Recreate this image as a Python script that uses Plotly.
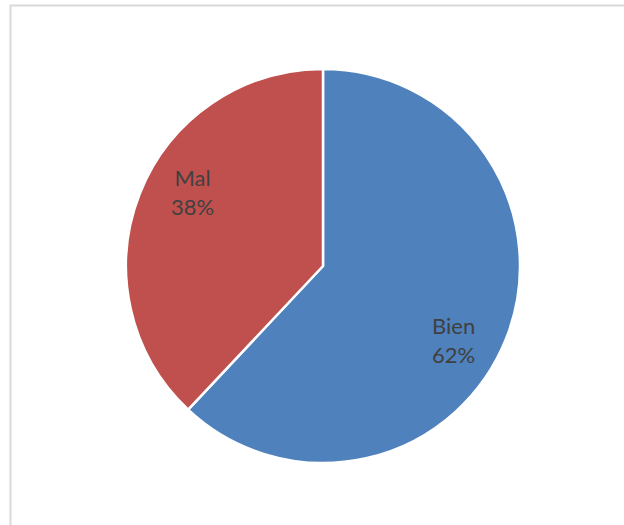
import math
import plotly.graph_objects as go

categories = ["Bien", "Mal"]
values = [62, 38]
colors = ["#4F81BD", "#C0504D"]

W, H = 624, 525
cx, cy, R = 323, 266, 197  # pie centre / radius in pixels

fig = go.Figure()
fig.add_trace(go.Pie(
    labels=categories,
    values=values,
    sort=False,
    direction="clockwise",
    rotation=0,
    marker=dict(colors=colors, line=dict(color="white", width=2.5)),
    textinfo="none",
    hoverinfo="label+percent",
    showlegend=False,
    domain=dict(x=[(cx - R) / W, (cx + R) / W], y=[(H - cy - R) / H, (H - cy + R) / H]),
))

# data labels placed along each slice's bisector (Excel "best fit" style)
total = sum(values)
cum = 0
label_r = 0.76
angle_shift = 8  # degrees
for lab, v in zip(categories, values):
    mid = (cum + v / 2) / total * 360 + angle_shift
    cum += v
    a = math.radians(mid)
    px = cx + label_r * R * math.sin(a)
    py = cy - label_r * R * math.cos(a)
    pct = round(v / total * 100)
    fig.add_annotation(
        x=px / W, y=1 - py / H, xref="paper", yref="paper",
        xanchor="center", yanchor="middle",
        text=f"{lab}<br>{pct}%", showarrow=False,
        font=dict(family="Lato, Carlito, Calibri, sans-serif", size=22, color="#404040"),
        align="center",
    )

# chart-area border (cut off at right and bottom in the reference)
fig.add_shape(type="rect", xref="paper", yref="paper",
              x0=10.5 / W, x1=1.05, y0=-0.05, y1=1 - 5.5 / H,
              line=dict(color="#D9D9D9", width=2), fillcolor="rgba(0,0,0,0)")

fig.update_layout(
    width=W, height=H,
    margin=dict(l=0, r=0, t=0, b=0),
    paper_bgcolor="white", plot_bgcolor="white",
)
fig.write_html(
    "out.html",
    config={"displayModeBar": False},
    post_script="document.body.style.margin='0';document.body.style.overflow='hidden';",
)
